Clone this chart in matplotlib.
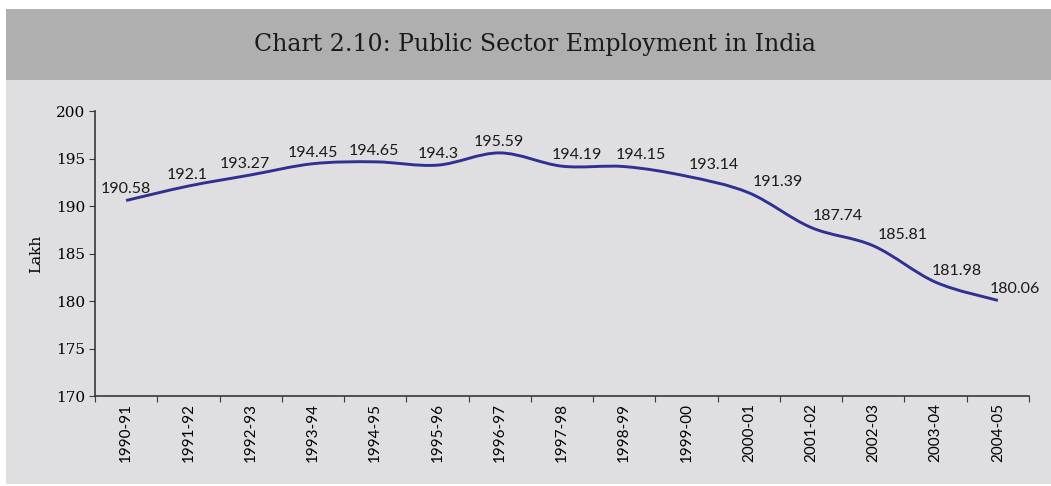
import numpy as np
import matplotlib.pyplot as plt
from matplotlib.path import Path
from matplotlib.patches import PathPatch, Rectangle

years = ['1990-91', '1991-92', '1992-93', '1993-94', '1994-95', '1995-96', '1996-97',
         '1997-98', '1998-99', '1999-00', '2000-01', '2001-02', '2002-03', '2003-04', '2004-05']
employment = [190.58, 192.1, 193.27, 194.45, 194.65, 194.3, 195.59,
              194.19, 194.15, 193.14, 191.39, 187.74, 185.81, 181.98, 180.06]
# sideways nudge of each value label (pixels), later labels sit right of the curve
label_dx = [0, -1, -6, 0, -1, 1, -1, 15, 17, 27, 29, 27, 29, 21, 17]

line_color = '#2e3192'
serif = 'DejaVu Serif'
sans = 'Lato'


def smooth_path(x, y, k=1/6):
    # cubic bezier through every point, catmull-rom style control points
    verts = [(x[0], y[0])]
    codes = [Path.MOVETO]
    n = len(x)
    for i in range(n - 1):
        x0, y0 = (x[i - 1], y[i - 1]) if i > 0 else (x[i], y[i])
        x3, y3 = (x[i + 2], y[i + 2]) if i + 2 < n else (x[i + 1], y[i + 1])
        c1 = (x[i] + (x[i + 1] - x0) * k, y[i] + (y[i + 1] - y0) * k)
        c2 = (x[i + 1] - (x3 - x[i]) * k, y[i + 1] - (y3 - y[i]) * k)
        verts += [c1, c2, (x[i + 1], y[i + 1])]
        codes += [Path.CURVE4] * 3
    return Path(verts, codes)


fig = plt.figure(figsize=(10.51, 4.86), dpi=100)
fig.patch.set_facecolor('white')
W, H = 1051, 486
# grey panel and darker title band, kept behind the axes
fig.patches.append(Rectangle((6 / W, 1 - 484 / H), 1, (484 - 80) / H,
                             transform=fig.transFigure, facecolor='#dfdfe1', edgecolor='none', zorder=-2))
fig.patches.append(Rectangle((6 / W, 1 - 80 / H), 1, 71 / H,
                             transform=fig.transFigure, facecolor='#afafb0', edgecolor='none', zorder=-2))
fig.text(535 / W, 1 - 44 / H, 'Chart 2.10: Public Sector Employment in India',
         ha='center', va='center', fontsize=17, family=serif, color='#1a1a1a')

ax = fig.add_axes([95 / W, 1 - 396 / H, (1029 - 95) / W, (396 - 111) / H])
ax.set_facecolor('none')

x = np.arange(len(years))
ax.add_patch(PathPatch(smooth_path(x, employment), facecolor='none',
                       edgecolor=line_color, linewidth=2.1, capstyle='butt'))
for xi, v, dx in zip(x, employment, label_dx):
    ax.annotate(f'{v:g}', (xi, v), xytext=(dx * 0.72, 8), textcoords='offset points',
                ha='center', va='center', fontsize=11.5, family=sans, color='#1a1a1a')

ax.set_xlim(-0.5, len(years) - 0.5)
ax.set_ylim(170, 200)
ax.set_yticks(np.arange(170, 201, 5))
ax.set_xticks(np.arange(-0.5, len(years), 1))
ax.set_xticklabels([])
ax.set_xticks(x, minor=True)
ax.set_xticklabels(years, minor=True, rotation=90, fontsize=11, family=sans)
ax.tick_params(axis='x', which='minor', length=0, pad=5)
ax.tick_params(axis='x', which='major', length=4, direction='out', color='#383838')
ax.tick_params(axis='y', length=4, direction='out', color='#383838', labelsize=11, pad=3)
for lab in ax.get_yticklabels():
    lab.set_family(serif)
for side in ['top', 'right']:
    ax.spines[side].set_visible(False)
for side in ['left', 'bottom']:
    ax.spines[side].set_color('#383838')
    ax.spines[side].set_linewidth(1.2)
ax.set_ylabel('Lakh', family=serif, fontsize=11, labelpad=9)

fig.savefig('out.png', dpi=100)
